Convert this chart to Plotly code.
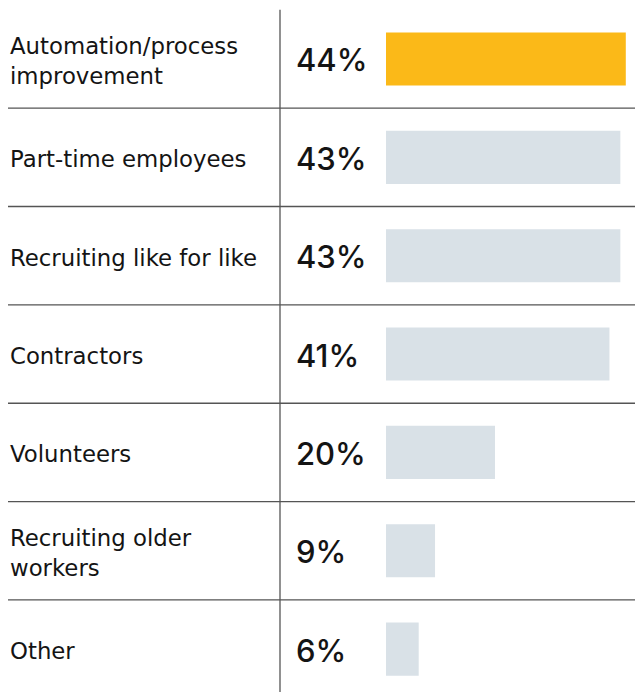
import plotly.graph_objects as go

# Survey responses: how organisations plan to fill workforce gaps
categories = [
    "Automation/process<br>improvement",
    "Part-time employees",
    "Recruiting like for like",
    "Contractors",
    "Volunteers",
    "Recruiting older<br>workers",
    "Other",
]
values = [44, 43, 43, 41, 20, 9, 6]
highlight = [True, False, False, False, False, False, False]

W, H = 635, 692
ORANGE = "#FBB918"
GREY_BAR = "#D9E1E7"
RULE = "#555555"
TEXT = "#141414"
LABEL_FONT = "DejaVu Sans"
VALUE_FONT = "Inter"

rows = list(range(len(categories)))
row_px = 98.35          # height of one row in pixels
first_center = 59.0     # pixel centre of the first row
y_top = -first_center / row_px
y_bottom = (H - first_center) / row_px

bar_left, px_per_unit = 386, 5.45
x_max = (W - bar_left) / px_per_unit

fig = go.Figure(
    go.Bar(
        y=rows,
        x=values,
        orientation="h",
        width=0.54,
        marker=dict(color=[ORANGE if h else GREY_BAR for h in highlight], line=dict(width=0)),
        hoverinfo="skip",
    )
)

annotations = []
for i, (cat, v) in enumerate(zip(categories, values)):
    annotations.append(dict(
        x=8 / W, xref="paper", y=i + 0.02, yref="y",
        text=cat, showarrow=False, xanchor="left", yanchor="middle", align="left",
        font=dict(family=LABEL_FONT, size=22.8, color=TEXT),
    ))
    annotations.append(dict(
        x=294 / W, xref="paper", y=i + 0.01, yref="y",
        text=f"{v}%", showarrow=False, xanchor="left", yanchor="middle",
        font=dict(family=VALUE_FONT, size=31, color=TEXT, weight=500),
    ))

shapes = []
# row separators
for i in rows[:-1]:
    shapes.append(dict(type="line", xref="paper", yref="y",
                       x0=8 / W, x1=1, y0=i + 0.5, y1=i + 0.5,
                       line=dict(color=RULE, width=1.3)))
# vertical divider between labels and values
shapes.append(dict(type="line", xref="paper", yref="y",
                   x0=280 / W, x1=280 / W, y0=-0.5, y1=y_bottom,
                   line=dict(color=RULE, width=1.3)))

fig.update_layout(
    width=W, height=H, autosize=False,
    margin=dict(l=0, r=0, t=0, b=0),
    paper_bgcolor="white", plot_bgcolor="white",
    showlegend=False,
    xaxis=dict(domain=[bar_left / W, 1], range=[0, x_max], visible=False, fixedrange=True),
    yaxis=dict(range=[y_bottom, y_top], visible=False, fixedrange=True),
    annotations=annotations,
    shapes=shapes,
)

fig.write_html("out.html", config={"displayModeBar": False})
